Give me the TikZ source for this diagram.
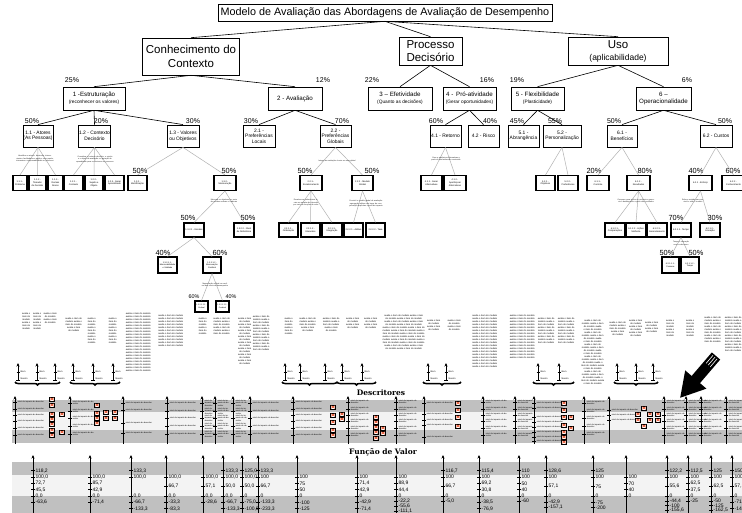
\documentclass[tikz,border=0pt]{standalone}
\usepackage{fontspec}
\setmainfont{Liberation Sans}
\newfontfamily\slab{DejaVu Serif}
\usetikzlibrary{arrows.meta,decorations.pathreplacing}
\definecolor{banddark}{HTML}{C0C0C0}
\definecolor{bandlight}{HTML}{F3F3F3}
\definecolor{markred}{HTML}{E4461E}
\newcommand\fsz[2]{\fontsize{#1}{#2}\selectfont}

\tikzset{
  box/.style={draw, line width=0.6pt, fill=white, align=center, inner sep=0.4pt},
  headbox/.style={box, font=\fsz{11.5}{14}},
  secbox/.style={box, font=\fsz{6.2}{6.8}, minimum height=23pt},
  subbox/.style={box, line width=0.8pt, font=\fsz{4.9}{5.6}, minimum height=22pt},
  leafbox/.style={draw, line width=1.1pt, fill=white, align=center, inner sep=0.2pt, font=\fsz{2.3}{2.8}},
  pct/.style={font=\fsz{7}{7}, inner sep=0pt},
  pctsmall/.style={font=\fsz{5.4}{5.4}, inner sep=0pt},
  link/.style={line width=0.6pt},
  sublink/.style={draw=black!30, line width=0.5pt},
  note/.style={font=\fsz{1.9}{2.5}, text=black!85, align=center, inner sep=0pt},
  coltext/.style={font=\fsz{2.3}{3}, text=black, align=center, inner sep=0pt, anchor=north west},
  refarrow/.style={-{Stealth[length=3.5pt,width=3pt]}, line width=0.9pt},
  groupbrace/.style={decorate, decoration={brace, mirror, amplitude=3pt}, line width=1.5pt},
  bandtitle/.style={font=\slab\bfseries\fsz{7.5}{7.5}, inner sep=0pt},
  dax/.style={-{Stealth[length=3.5pt,width=3pt]}, line width=0.8pt},
  dlab/.style={font=\fsz{2}{2.4}, text=black, align=left, inner sep=0pt, anchor=west},
  vlab/.style={font=\fsz{5}{5}, inner sep=0pt, anchor=west},
}

% repeated filler phrase for the descriptor columns
\newcommand\filltxt[1]{\foreach\k in {1,...,#1}{avalia o item do modelo }}
\newcommand\dcol[4]{\node[coltext, text width=#3pt] at (#1,#2) {\filltxt{#4}};}
% reference-level arrow (Bom / Neutro)
\newcommand\refarr[1]{%
  \draw[refarrow] (#1,380) -- (#1,363);
  \draw[line width=0.6pt] (#1-2,380) -- (#1+2,380) (#1-1.5,372) -- (#1+1.5,372);
  \node[dlab, font=\fsz{2.3}{2.5}] at (#1+2.5,371.5) {Bom};
  \node[dlab, font=\fsz{2.3}{2.5}] at (#1+2.5,379) {Neutro};
}
% descriptor axis with tick labels
\newcommand\daxis[3]{%
  \draw[dax] (#1,444) -- (#1,396);
  \foreach \ty in {#3}{%
    \draw[line width=0.5pt] (#1-1.8,\ty) -- (#1+1.8,\ty);
    \node[dlab, text width=#2pt] at (#1+2.6,\ty) {nível de impacto do descritor};}%
}
% small marker (framed cell with red cross)
\newcommand\mk[2]{%
  \draw[black, fill=white, line width=0.8pt] (#1-2.5,#2-1.9) rectangle (#1+2.5,#2+1.9);
  \draw[markred, line width=0.55pt] (#1-1.8,#2-1.3) -- (#1+1.8,#2+1.3) (#1-1.8,#2+1.3) -- (#1+1.8,#2-1.3);
}
% value-function axis: slot/value pairs, slot 0 = 100, slot 3 = 0
\newcommand\vaxis[2]{%
  \draw[dax] (#1,514) -- (#1,455);
  \foreach \sl/\vv in {#2}{%
    \draw[line width=0.5pt] ({#1-1.8},{477+6.33*(\sl)}) -- ({#1+1.8},{477+6.33*(\sl)});
    \node[vlab] at ({#1+2.4},{477+6.33*(\sl)}) {\vv};}%
}

\begin{document}
\begin{tikzpicture}[x=1pt,y=-1pt]
\useasboundingbox (0,0) rectangle (742,513);
\clip (0,0) rectangle (742,513);
\fill[white] (0,0) rectangle (742,513);

% ---------------- tree: top levels ----------------
\node[box, font=\fsz{10.8}{11}, minimum width=334pt, minimum height=17pt] (title) at (385,12.5)
  {Modelo de Avaliação das Abordagens de Avaliação de Desempenho};
\node[headbox, minimum width=97pt, minimum height=37pt] (ctx) at (191,56.5) {Conhecimento do\\Contexto};
\node[headbox, font=\fsz{11.5}{13}, minimum width=63pt, minimum height=28pt] (dec) at (430.5,51) {Processo\\Decisório};
\node[headbox, font=\fsz{11.5}{12}, minimum width=100pt, minimum height=28pt] (uso) at (618,51) {Uso\\{\fsz{8.5}{9}(aplicabilidade)}};

\node[secbox, minimum width=62pt] (s1) at (94,98.5) {1 -Estruturação\\{\fsz{4.8}{5}(reconhecer os valores)}};
\node[secbox, minimum width=54pt] (s2) at (295,98.5) {2 - Avaliação};
\node[secbox, minimum width=64pt] (s3) at (400,98.5) {3 – Efetividade\\{\fsz{4.8}{5}(Quanto as decisões)}};
\node[secbox, minimum width=53pt] (s4) at (469.5,98.5) {4 - \,Pró-atividade\\{\fsz{4.8}{5}(Gerar oportunidades)}};
\node[secbox, minimum width=53pt] (s5) at (537.5,98.5) {5 - Flexibilidade\\{\fsz{4.8}{5}(Plasticidade)}};
\node[secbox, minimum width=55pt] (s6) at (663.5,98.5) {6 –\\Operacionalidade};

\node[pct] (p1) at (72,80) {25\%};
\node[pct] (p2) at (323,80) {12\%};
\node[pct] (p3) at (372,80) {22\%};
\node[pct] (p4) at (487,80) {16\%};
\node[pct] (p5) at (517,80) {19\%};
\node[pct] (p6) at (687,80) {6\%};

\node[subbox, minimum width=30pt] (a11) at (38,136) {1.1 - Atores\\(As Pessoas)};
\node[subbox, minimum width=31pt] (a12) at (94.5,136) {1.2 - Contexto\\Decisório};
\node[subbox, minimum width=32pt] (a13) at (183,136) {1.3 - Valores\\ou Objetivos};
\node[subbox, minimum width=32pt] (a21) at (259,136) {2.1 -\\Preferências\\Locais};
\node[subbox, minimum width=31pt] (a22) at (335.5,136) {2.2 -\\Preferências\\Globais};
\node[subbox, minimum width=31pt] (a41) at (445.5,136) {4.1 - Retorno};
\node[subbox, minimum width=31pt] (a42) at (483.5,136) {4.2 - Risco};
\node[subbox, minimum width=31pt] (a51) at (523.5,136) {5.1 -\\Abrangência};
\node[subbox, minimum width=38pt] (a52) at (562,136) {5.2 -\\Personalização};
\node[subbox, minimum width=30pt] (a61) at (622,136) {6.1 -\\Benefícios};
\node[subbox, minimum width=32pt] (a62) at (716,136) {6.2 - Custos};

\node[pct] (q11) at (32,121) {50\%};
\node[pct] (q12) at (101,121) {20\%};
\node[pct] (q13) at (193,121) {30\%};
\node[pct] (q21) at (251,121) {30\%};
\node[pct] (q22) at (342,121) {70\%};
\node[pct] (q41) at (436,121) {60\%};
\node[pct] (q42) at (490,121) {40\%};
\node[pct] (q51) at (517,121) {45\%};
\node[pct] (q52) at (555,121) {55\%};
\node[pct] (q61) at (614,121) {50\%};
\node[pct] (q62) at (725,121) {50\%};

% ---------------- tree: lower levels ----------------
\tikzset{lv4/.style={leafbox, minimum height=15pt}, lv5/.style={leafbox, minimum height=14pt},
  lv6/.style={leafbox, minimum height=16pt, font=\fsz{2.1}{2.7}}, lv7/.style={leafbox, minimum height=11pt, font=\fsz{1.9}{2.4}}}
\node[lv4, minimum width=14pt] (b111) at (20,183) {1.1.1 -\\Problema};
\node[lv4, minimum width=17pt] (b112) at (37.5,183) {1.1.2 -\\Tomador\\de Decisão};
\node[lv4, minimum width=15pt] (b113) at (55.5,183) {1.1.3 -\\Demais\\Atores};
\node[lv4, minimum width=19pt] (b121) at (73.5,183) {1.2.1 -\\Contexto};
\node[lv4, minimum width=18pt] (b122) at (94,183) {1.2.2 -\\Sujeito e\\Objeto};
\node[lv4, minimum width=19pt] (b123) at (114.5,183) {1.2.3 - Gerar\\Aprendizado};
\node[lv4, minimum width=19pt] (b131) at (137.5,183) {1.3.1 -\\Identificação};
\node[lv4, minimum width=22pt] (b132) at (225,183) {1.3.2 -\\Mensuração};
\node[lv4, minimum width=22pt] (b221) at (311,183) {2.2.1 -\\Escalonamento};
\node[lv4, minimum width=21pt] (b222) at (362.5,183) {2.2.2 - Modelo\\Global};
\node[lv4, minimum width=21pt] (b411) at (431.5,183) {4.1.1 - Gerar\\Alternativas};
\node[lv4, minimum width=22pt] (b412) at (455,183) {4.1.2 -\\Aperfeiçoar\\Alternativas};
\node[lv4, minimum width=19pt] (b521) at (545.5,183) {5.2.1 -\\Objetivos};
\node[lv4, minimum width=20pt] (b522) at (568,183) {5.2.2 -\\Preferências};
\node[lv4, minimum width=22pt] (b611) at (598,183) {6.1.1 -\\Controle};
\node[lv4, minimum width=23pt] (b612) at (638.5,183) {6.1.2 -\\Resultados};
\node[lv4, minimum width=23pt] (b621) at (700.5,183) {6.2.1 - Esforço};
\node[lv4, minimum width=23pt] (b622) at (733.5,183) {6.2.2 -\\Conhecimento};

\node[pct, font=\fsz{7.4}{7.4}] (r131) at (140,171) {50\%};
\node[pct, font=\fsz{7.4}{7.4}] (r132) at (229,171) {50\%};
\node[pct, font=\fsz{7.4}{7.4}] (r221) at (305,171) {50\%};
\node[pct, font=\fsz{7.4}{7.4}] (r222) at (372,171) {50\%};
\node[pct, font=\fsz{7.4}{7.4}] (r611) at (594,171) {20\%};
\node[pct, font=\fsz{7.4}{7.4}] (r612) at (645,171) {80\%};
\node[pct, font=\fsz{7.4}{7.4}] (r621) at (696,171) {40\%};
\node[pct, font=\fsz{7.4}{7.4}] (r622) at (733,171) {60\%};

\node[lv5, minimum width=20pt] (c1321) at (194,230) {1.3.2.1 - Escalas};
\node[lv5, minimum width=20pt] (c1322) at (244,230) {1.3.2.2 - Nível\\de Referência};
\node[lv5, minimum width=19pt] (c2211) at (288.5,230) {2.2.1.1 -\\Ordenação};
\node[lv5, minimum width=19pt] (c2212) at (310.5,230) {2.2.1.2 -\\Intervalos};
\node[lv5, minimum width=20pt] (c2213) at (332,230) {2.2.1.3 -\\Integração};
\node[lv5, minimum width=19pt] (c2221) at (353.5,230) {2.2.2.1 - Aditivo};
\node[lv5, minimum width=19pt] (c2222) at (375.5,230) {2.2.2.2 - Taxa};
\node[lv5, minimum width=20pt] (c6121) at (615,230) {6.1.2.1 -\\Comparações};
\node[lv5, minimum width=20pt] (c6122) at (636,230) {6.1.2.2 - Ações\\Melhoria};
\node[lv5, minimum width=20pt] (c6123) at (657,230) {6.1.2.3 -\\Gerenciamento};
\node[lv5, minimum width=20pt] (c6211) at (681,230) {6.2.1.1 - Tempo};
\node[lv5, minimum width=20pt] (c6212) at (710,230) {6.2.1.2 -\\Interação};

\node[pct, font=\fsz{7.4}{7.4}] (t1321) at (188,218) {50\%};
\node[pct, font=\fsz{7.4}{7.4}] (t1322) at (248,218) {50\%};
\node[pct, font=\fsz{7.4}{7.4}] (t6211) at (676,218) {70\%};
\node[pct, font=\fsz{7.4}{7.4}] (t6212) at (715,218) {30\%};

\node[lv6, minimum width=19pt] (d13211) at (167.5,265) {1.3.2.1.1 -\\Mensurabilidade\\e Validade};
\node[lv6, minimum width=18pt] (d13212) at (212,265) {1.3.2.1.2 -\\Mensuração\\Cardinal};
\node[lv6, minimum width=17pt] (d62111) at (670.5,265) {6.2.1.1.1 -\\Pessoas};
\node[lv6, minimum width=18pt] (d62112) at (690,265) {6.2.1.1.2 -\\Tempo};

\node[pct, font=\fsz{7.4}{7.4}] (u13211) at (163,253) {40\%};
\node[pct, font=\fsz{7.4}{7.4}] (u13212) at (220,253) {60\%};
\node[pct, font=\fsz{7.4}{7.4}] (u62111) at (667,253) {50\%};
\node[pct, font=\fsz{7.4}{7.4}] (u62112) at (696,253) {50\%};

\node[lv7, minimum width=13pt] (e1) at (201.5,306.5) {1.3.2.1.2.1 -\\Ordinal};
\node[lv7, minimum width=13pt] (e2) at (222.5,306.5) {1.3.2.1.2.2 -\\Cardinal};
\node[pctsmall] (w1) at (194,297) {60\%};
\node[pctsmall] (w2) at (231,297) {40\%};

% ---------------- connectors ----------------
\foreach \c in {ctx,dec,uso} \draw[link] (title.south) -- (\c.north);
\draw[link] (ctx.south) -- (s1.north) (ctx.south) -- (s2.north);
\draw[link] (dec.south) -- (s3.north) (dec.south) -- (s4.north);
\draw[link] (uso.south) -- (s5.north) (uso.south) -- (s6.north);
\foreach \c in {a11,a12,a13} \draw[link] (s1.south) -- (\c.north);
\foreach \c in {a21,a22} \draw[link] (s2.south) -- (\c.north);
\foreach \c in {a41,a42} \draw[link] (s4.south) -- (\c.north);
\foreach \c in {a51,a52} \draw[link] (s5.south) -- (\c.north);
\foreach \c in {a61,a62} \draw[link] (s6.south) -- (\c.north);
\foreach \p/\c in {a11/b111,a11/b112,a11/b113,a12/b121,a12/b122,a12/b123,a13/b131,a13/b132,
  a22/b221,a22/b222,a41/b411,a41/b412,a52/b521,a52/b522,a61/b611,a61/b612,a62/b621,a62/b622,
  b132/c1321,b132/c1322,b221/c2211,b221/c2212,b221/c2213,b222/c2221,b222/c2222,
  b612/c6121,b612/c6122,b612/c6123,b621/c6211,b621/c6212,
  c1321/d13211,c1321/d13212,c6211/d62111,c6211/d62112,d13212/e1,d13212/e2}
  \draw[sublink] (\p.south) -- (\c.north);

% notes under the nodes
\node[note, text width=46pt] (n11) at (35,159) {Identifica os atores: decisores, intervenientes, facilitadores e agidos; seus papéis, interesses e responsabilidades no processo};
\node[note, text width=50pt] (n12) at (95,159) {Considera o contexto decisório, o sujeito e o objeto da avaliação e a geração de aprendizado para os decisores no processo};
\node[note, text width=38pt] (n132) at (224,201) {Mensura os objetivos por meio de escalas ordinais e cardinais};
\node[note, text width=40pt] (n22) at (337,161) {Integra as avaliações locais em uma global};
\node[note, text width=37pt] (n221) at (306,203) {Escalona as preferências locais em escalas de intervalo por meio de funções de valor};
\node[note, text width=42pt] (n222) at (366,204) {Constrói o modelo global de avaliação: agregação aditiva com taxas de compensação explícitas e perfil de impacto};
\node[note, text width=33pt] (n41) at (446,159) {Gera e aperfeiçoa alternativas a partir do conhecimento construído};
\node[note, text width=47pt] (n612) at (636,201) {Compara, gera ações de melhoria e gerencia o desempenho a partir dos resultados};
\node[note, text width=40pt] (n621) at (693,201) {Esforço exigido para construir e usar o modelo};
\node[note, text width=30pt] (n6211) at (681,243.5) {Tempo e interação com os decisores};
\node[note, text width=36pt] (n13212) at (215,285) {Mensuração ordinal ou cardinal dos níveis de desempenho};

% ---------------- descriptor texts ----------------
\foreach \x/\y/\w/\n in {20/313/12/2, 32/313/10/2, 43/313/14/2, 65/318/17/3, 85/318/13/3, 107/318/11/3,
  123/313/30/20, 156/315/29/11, 197/318/11/2, 213/318/17/4, 237/318/15/8, 252/316/18/8,
  282/318/13/2, 298/318/19/3, 322/318/18/3, 345/318/15/2, 363/318/15/2, 381/315/45/19,
  426/320/15/2, 447/320/14/2, 471/315/27/18, 508/315/28/15, 536/318/20/6, 557/318/18/6,
  581/320/23/17, 609/322/17/3, 628/320/15/3, 644/322/15/2, 664/320/12/2, 684/320/12/2,
  704/317/17/6, 724/317/18/8}
  {\dcol{\x}{\y}{\w}{\n}}

% reference arrows and braces
\foreach \x in {18,37,55,73,93,113,285,300,325,342,362,428,446,538,559,617,636,653} {\refarr{\x}}
\foreach \a/\b in {15/60, 70/120, 282/337, 337/376, 423/461, 533/574, 614/658}
  \draw[groupbrace] (\a,382) -- (\b,382);

% ---------------- descriptor band ----------------
\fill[banddark] (12,400) rectangle (742,412);
\fill[bandlight] (12,412) rectangle (742,430);
\fill[banddark] (12,430) rectangle (742,443);
\node[bandtitle] (desc) at (381,393) {Descritores};

\daxis{15}{30}{402,409,415,421,428,435}
\daxis{70}{22}{403,411,418,426,434}
\daxis{123}{38}{403,410,423,433}
\daxis{167}{30}{403,411,418,426,434}
\daxis{202}{10}{403,411,418,426,434}
\daxis{215}{14}{403,411,418,426,434}
\daxis{233}{14}{403,411,418,426,434}
\daxis{250}{38}{403,411,418,426,434}
\daxis{293}{40}{402,409,415,421,428,435}
\daxis{348}{18}{402,409,415,421,428,435}
\daxis{396}{20}{402,409,415,421,428,435}
\daxis{424}{28}{403,414,420,425,437}
\daxis{483}{25}{402,409,415,421,428,435}
\daxis{515}{15}{402,409,415,421,428,435}
\daxis{534}{30}{403,408,417,422,427,432,437,441}
\daxis{584}{20}{403,411,418,426,434}
\daxis{609}{30}{410,415,420}
\daxis{664}{18}{402,409,415,421,428,435}
\daxis{686}{18}{402,409,415,421,428,435}
\daxis{701}{20}{402,409,415,421,428,435}
\daxis{726}{16}{402,409,415,421,428,435}

\foreach \x/\y in {52/399,52/405,52/414,52/419,52/424,52/430,52/435,62/414,62/432,
  97/405,97/413,97/418,97/423,106/412,106/418,115/412,115/418,
  333/407,333/415,333/422,333/430,333/435,342/414,342/419,
  376/417,376/422,376/427,376/432,376/438,383/428,383/433,
  458/403,458/410,458/417,458/426,
  564/403,564/410,564/417,564/425,564/432,564/437,564/442,571/417,571/428,
  644/408,638/414,650/414,658/414,638/420,650/420,658/420,644/426}
  {\mk{\x}{\y}}

% ---------------- value function band ----------------
\fill[banddark] (12,462) rectangle (742,475);
\fill[bandlight] (12,475) rectangle (742,496);
\fill[banddark] (12,496) rectangle (742,513);
\node[bandtitle] (vf) at (383,452) {Função de Valor};

\vaxis{33}{-1/118{,}2, 0/100{,}0, 1/72{,}7, 2/45{,}5, 3/0{,}0, 4/-63{,}6}
\vaxis{90}{0/100{,}0, 1/85{,}7, 2/42{,}9, 3/0{,}0, 4/-71{,}4}
\vaxis{131}{-1/133{,}3, 0/100{,}0, 3/0{,}0, 4/-66{,}7, 5/-133{,}3}
\vaxis{166}{0/100{,}0, 1.5/66{,}7, 3/0{,}0, 4/-33{,}3, 5/-83{,}3}
\vaxis{203}{0/100{,}0, 1.5/57{,}1, 3/0{,}0, 4/-28{,}6}
\vaxis{223}{-1/133{,}3, 0/100{,}0, 1.5/50{,}0, 3/0{,}0, 4/-66{,}7, 5/-133{,}3}
\vaxis{242}{-1/125{,}0, 0/100{,}0, 1.5/50{,}0, 3/0, 4/-75{,}0, 5/-100{,}0}
\vaxis{258}{-1/133{,}3, 0/100, 1.5/66{,}7, 3/0, 4/-133{,}3, 5/-233{,}3}
\vaxis{297}{0/100, 1/75, 2/50, 3/0, 4/-100, 5/-125}
\vaxis{357}{0/100, 1/71{,}4, 2/42{,}9, 3/0, 4/-42{,}9, 5/-71{,}4}
\vaxis{396}{0/100, 1/88{,}9, 2/44{,}4, 3/0, 3.8/-22{,}2, 4.6/-55{,}6, 5.4/-111{,}1}
\vaxis{443}{-1/116{,}7, 0/100, 1.5/66{,}7, 3/0, 3.8/-5{,}0}
\vaxis{479}{-1/115{,}4, 0/100, 1/69{,}2, 2/30{,}8, 3/0, 4/-38{,}5, 5/-76{,}9}
\vaxis{519}{-1/110, 0/100, 1/50, 2/40, 3/0, 3.8/-60}
\vaxis{546}{-1/128{,}6, 0/100, 1.5/57{,}1, 3/0, 4/-42{,}9, 4.8/-157{,}1}
\vaxis{593}{-1/125, 0/100, 1.5/75, 3/0, 4/-75, 4.8/-200}
\vaxis{626}{0/100, 1/70, 2/40, 3/0}
\vaxis{667}{-1/122{,}2, 0/100, 1.5/55{,}6, 3/0, 3.8/-44{,}4, 4.5/-100, 5.2/-155{,}6}
\vaxis{688}{-1/112{,}5, 0/100, 1/62{,}5, 2/37{,}5, 3/0, 3.8/-25}
\vaxis{711}{-1/125, 0/100, 1.5/62{,}5, 3/0, 3.8/-50, 4.5/-125, 5.2/-162{,}5}
\vaxis{732}{-1/150, 0/100, 1.5/57{,}1, 3/0, 4/-71{,}4, 5/-142{,}9}

% ---------------- pointer arrow ----------------
\begin{scope}[shift={(716,356)}, x={(-0.651pt,-0.759pt)}, y={(0.759pt,-0.651pt)}]
  \fill[black] (0,-5.5) -- (31,-5.5) -- (31,-14) -- (55,0) -- (31,14) -- (31,5.5) -- (0,5.5) -- cycle;
  \draw[white, line width=0.6pt] (1.5,-2.7) -- (12,-2.7) (1.5,0) -- (12,0) (1.5,2.7) -- (12,2.7);
\end{scope}
\end{tikzpicture}
\end{document}
